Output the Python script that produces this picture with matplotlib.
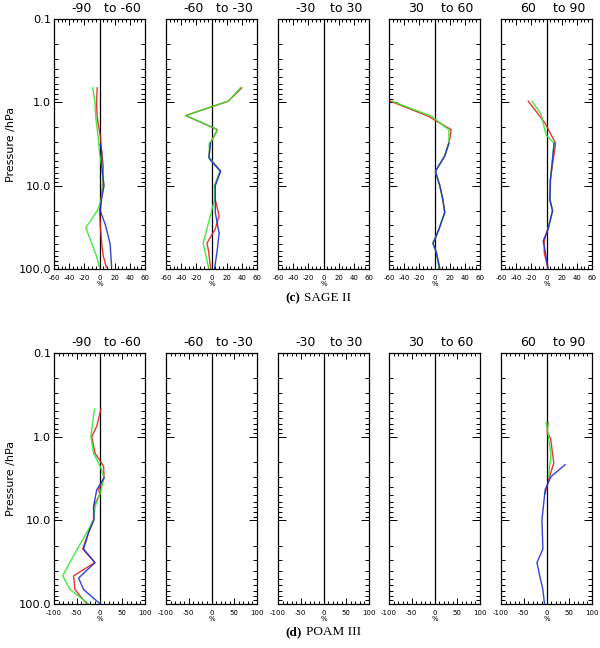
import matplotlib
matplotlib.use("Agg")
import matplotlib.pyplot as plt
from matplotlib.ticker import FixedLocator, MultipleLocator, LogLocator, NullFormatter

plt.rcParams['axes.unicode_minus'] = False

# Latitude bands
bandas = [("-90", "to -60"), ("-60", "to -30"), ("-30", "to 30"), ("30", "to 60"), ("60", "to 90")]

# ---- (c) SAGE II  (pressure hPa, difference %) ----
c1_red_p = [0.67, 1.0, 1.5, 2.0, 2.5, 4, 6, 10, 15, 20, 30, 50, 70, 95]
c1_red_v = [-3, -4, -3, -1, 1, 3, 5, 4, 2, 0, 1, 3, 5, 9]
c1_green_p = [0.67, 1.0, 1.5, 3.0, 4.0, 6, 10, 15, 20, 32, 50, 70, 95]
c1_green_v = [-9, -6, -5, -1, 0, 3, 5, 2, -3, -18, -10, -4, 0]
c1_blue_p = [3.2, 4, 6, 10, 14, 20, 30, 50, 70, 95]
c1_blue_v = [1, 3, 3, 6, 3, 1, 8, 14, 15, 16]

c2_red_p = [0.67, 0.97, 1.44, 2.13, 2.9, 3.1, 4.6, 6.7, 10, 14.7, 23, 33, 49, 60, 100]
c2_red_v = [40, 22, -34, 8, 0, -2, -3, 12, 4, 5, 10, 5, -6, -4, -1]
c2_green_p = [0.67, 0.97, 1.44, 2.13, 2.9, 3.1, 4.6, 6.7, 10, 14.7, 49, 100]
c2_green_v = [38, 22, -34, 8, 0, -3, -3, 11, 4, 4, -11, -3.5]
c2_blue_p = [3.1, 4.6, 5.0, 6.7, 10, 21, 37, 60, 100]
c2_blue_v = [-1.3, -3.5, -1, 12, 5, 5, 10, 7.5, 4]

c4_red_p = [0.97, 1.47, 2.13, 2.8, 4.4, 6.4, 6.8, 10, 14.7, 21, 33, 44, 49, 64, 100]
c4_red_v = [-58, -8, 22, 20, 13.5, 2.6, 1.3, 7, 11, 13.5, 6, 0.4, -2, 2.6, 7]
c4_green_p = [0.97, 1.47, 2.13, 3.1, 4.4, 6.4, 6.8, 10, 14.7, 21, 33, 44, 49, 64, 100]
c4_green_v = [-56, -4, 19, 19, 13.5, 2.6, 1.3, 7, 11, 13.5, 6, 0.4, -2, 2.6, 6]
c4_blue_p = [3.1, 4.4, 6.4, 6.8, 10, 14.7, 21, 33, 44, 49, 64, 100]
c4_blue_v = [19, 13.5, 2.6, 1.3, 7, 11, 13.5, 6, 0.4, -2, 2.6, 7]

c5_red_p = [0.97, 1.77, 3.1, 8.5, 14.7, 20, 33, 46, 64, 100]
c5_red_v = [-24, -2, 12, 5, 4.4, 8, 2, -3, -3, 2]
c5_green_p = [0.97, 1.4, 2.2, 2.5, 3.1, 8.5, 14.7, 20, 33]
c5_green_v = [-19, -7, -2, 0, 10, 5, 4.4, 8, 2]
c5_blue_p = [3.1, 8.5, 14.7, 20, 33, 46, 64, 100]
c5_blue_v = [10, 5.3, 4.4, 8, 2.2, -4.4, -1.3, 2.2]

# ---- (d) POAM III ----
d1_red_p = [0.47, 0.75, 1.0, 1.57, 2.26, 3.1, 4.3, 4.9, 6.8, 9.8, 14, 22, 32, 46, 67, 100]
d1_red_v = [3, -6, -17, -10, 9, 10, -2, 1, -13, -13, -24, -37, -10, -57, -54, -28]
d1_green_p = [0.47, 0.99, 1.57, 2.26, 3.1, 4.7, 6.8, 9.8, 14, 26.5, 46, 67, 100]
d1_green_v = [-11, -19, -13, 1.5, 10, 1.5, -9.5, -13, -28, -57, -81, -65, -24]
d1_blue_p = [3.1, 4.3, 6.8, 9.8, 14, 22, 32, 49, 67, 100]
d1_blue_v = [10, -6, -13, -12, -24, -35, -10, -46, -35, 1.5]

d5_red_p = [0.67, 0.9, 1.05, 2.07, 3.0, 4.3, 4.8]
d5_red_v = [3, 1.5, 9, 16, 6.6, -0.7, -3]
d5_green_p = [0.67, 0.99, 1.7, 2.26, 3.0]
d5_green_v = [-0.7, 4.4, 10, 6.6, 5]
d5_blue_p = [2.16, 3.0, 4.3, 6.2, 9.8, 22, 32, 46, 67, 100]
d5_blue_v = [41, 10, -3, -6, -10, -8, -21, -15, -8, -4.4]

fila_c = [
    [(c1_red_p, c1_red_v), (c1_green_p, c1_green_v), (c1_blue_p, c1_blue_v)],
    [(c2_red_p, c2_red_v), (c2_green_p, c2_green_v), (c2_blue_p, c2_blue_v)],
    None,
    [(c4_red_p, c4_red_v), (c4_green_p, c4_green_v), (c4_blue_p, c4_blue_v)],
    [(c5_red_p, c5_red_v), (c5_green_p, c5_green_v), (c5_blue_p, c5_blue_v)],
]
fila_d = [
    [(d1_red_p, d1_red_v), (d1_green_p, d1_green_v), (d1_blue_p, d1_blue_v)],
    None, None, None,
    [(d5_red_p, d5_red_v), (d5_green_p, d5_green_v), (d5_blue_p, d5_blue_v)],
]

colores = ['#e8201c', '#2ee82e', '#1c2fd8']

fig = plt.figure(figsize=(6.0, 6.48), dpi=100)
fig.patch.set_facecolor('white')

lefts = [54, 166, 278, 389, 501]
ancho = 91 / 600


def panel(x0, y0, alto, datos, banda, xlim, xmaj, xmin, primera):
    ax = fig.add_axes([x0 / 600, y0, ancho, alto])
    ax.set_yscale('log')
    ax.set_ylim(100, 0.1)
    ax.set_xlim(-xlim, xlim)
    ax.axvline(0, color='black', lw=0.9)
    if datos:
        for (p, v), c in zip(datos, colores):
            ax.plot(v, p, color=c, lw=1.0, alpha=0.9)
    ax.set_xticks(list(range(-xlim, xlim + 1, xmaj)))
    ax.xaxis.set_minor_locator(MultipleLocator(xmin))
    ax.yaxis.set_major_locator(FixedLocator([0.1, 1, 10, 100]))
    ax.yaxis.set_minor_locator(LogLocator(base=10, subs=range(2, 10)))
    ax.yaxis.set_minor_formatter(NullFormatter())
    if primera:
        ax.set_yticklabels(['0.1', '1.0', '10.0', '100.0'], fontsize=8.2)
        ax.set_ylabel('Pressure /hPa', fontsize=8, labelpad=2)
    else:
        ax.set_yticklabels([])
    ax.tick_params(axis='both', which='both', direction='in', top=True, right=True,
                   width=0.7)
    ax.tick_params(axis='y', which='major', length=6, pad=2)
    ax.tick_params(axis='y', which='minor', length=3)
    ax.tick_params(axis='x', which='major', length=4, labelsize=5, pad=4.5)
    ax.tick_params(axis='x', which='minor', length=2)
    ax.set_xlabel('%', fontsize=5, labelpad=0)
    for s in ax.spines.values():
        s.set_linewidth(0.9)
    ax.text(0.30, 1.015, banda[0], transform=ax.transAxes, ha='center', va='bottom', fontsize=9)
    ax.text(0.75, 1.015, banda[1], transform=ax.transAxes, ha='center', va='bottom', fontsize=9)
    return ax


for i in range(5):
    panel(lefts[i], 1 - 269 / 648, 250 / 648, fila_c[i], bandas[i], 60, 20, 5, i == 0)
    panel(lefts[i], 1 - 604 / 648, 251 / 648, fila_d[i], bandas[i], 100, 50, 10, i == 0)

# Leyendas de cada fila
fig.text(0.500, 1 - 298 / 648, '(c)', fontsize=9.5, fontweight='bold', family='Liberation Serif',
         ha='right', va='center')
fig.text(0.507, 1 - 298 / 648, 'SAGE II', fontsize=9.5, family='Liberation Serif',
         ha='left', va='center')
fig.text(0.503, 1 - 632 / 648, '(d)', fontsize=9.5, fontweight='bold', family='Liberation Serif',
         ha='right', va='center')
fig.text(0.510, 1 - 632 / 648, 'POAM III', fontsize=9.5, family='Liberation Serif',
         ha='left', va='center')

plt.savefig('out.png', dpi=100)
plt.close()
